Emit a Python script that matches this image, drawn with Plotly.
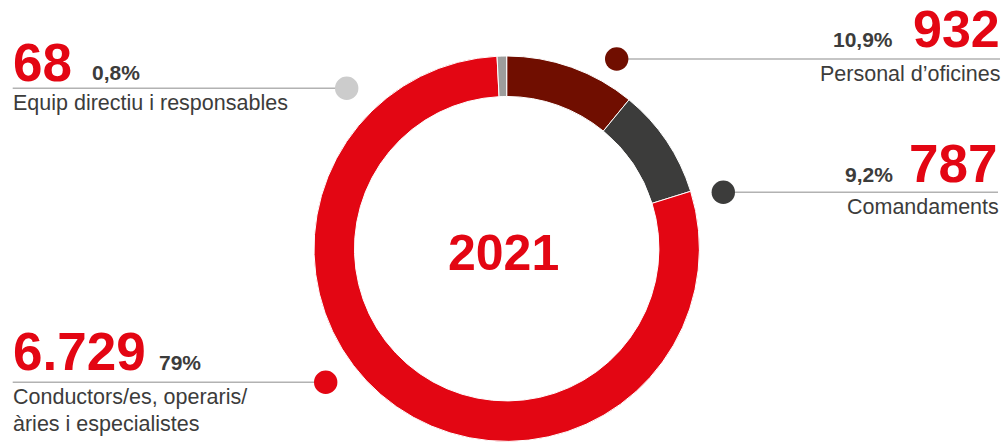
import plotly.graph_objects as go

# ---- data ----
categories = ["Personal d’oficines", "Comandaments",
              "Conductors/es, operaris/\nàries i especialistes",
              "Equip directiu i responsables"]
values = [932, 787, 6729, 68]
pct_labels = ["10,9%", "9,2%", "79%", "0,8%"]
year_label = "2021"

# ---- style ----
W, H = 1006, 442
RED = "#E30613"
DARK = "#3C3C3B"
seg_colors = ["#700E00", "#3C3C3B", "#E30613", "#9D9D9C"]
dot_colors = ["#700E00", "#3C3C3B", "#E30613", "#CCCCCC"]
FONT = "Liberation Sans, Arial, Helvetica, sans-serif"
LBL = 21.5

def px(x):
    return x / W

def py(y):
    return 1 - y / H

num_labels = [f"{v:,}".replace(",", ".") for v in values]

fig = go.Figure(go.Pie(
    values=values,
    labels=[c.replace("\n", " ") for c in categories],
    sort=False, direction="clockwise", rotation=0, hole=0.79,
    marker=dict(colors=seg_colors, line=dict(color="white", width=1)),
    textinfo="none", hoverinfo="label+value+percent", showlegend=False,
    domain=dict(x=[px(314), px(699.4)], y=[py(441.4), py(56)]),
))

ann = []
shapes = []

def text(x, y, s, size, color, bold=False, anchor="left"):
    ann.append(dict(x=px(x), y=py(y), xref="paper", yref="paper", text=f"<b>{s}</b>" if bold else s,
                    showarrow=False, xanchor=anchor, yanchor="middle",
                    font=dict(family=FONT, size=size, color=color)))

def leader(x0, x1, y, dotx, color):
    shapes.append(dict(type="line", xref="paper", yref="paper", x0=px(x0), x1=px(x1), y0=py(y), y1=py(y),
                       line=dict(color="#B2B2B2", width=1.4), layer="below"))
    r = 11.7
    shapes.append(dict(type="circle", xref="paper", yref="paper", x0=px(dotx - r), x1=px(dotx + r),
                       y0=py(y + r), y1=py(y - r), fillcolor=color, line=dict(width=0)))

# Personal d'oficines (top right)
i = 0
text(1002, 29.3, num_labels[i], 52, RED, True, "right")
text(895, 39, pct_labels[i], 21, DARK, True, "right")
text(1002, 74, categories[i], LBL, DARK, False, "right")
leader(616.7, 1000, 59, 616.7, dot_colors[i])

# Comandaments (right)
i = 1
text(999, 163.3, num_labels[i], 53, RED, True, "right")
text(895, 174.5, pct_labels[i], 21, DARK, True, "right")
text(1000.5, 207, categories[i], LBL, DARK, False, "right")
leader(723.3, 998, 192.3, 723.3, dot_colors[i])

# Conductors (bottom left)
i = 2
text(10.5, 351.7, num_labels[i], 53, RED, True, "left")
text(156.5, 362.5, pct_labels[i], 21, DARK, True, "left")
for k, line in enumerate(categories[i].split("\n")):
    text(11, 397 + 26.7 * k, line, LBL, DARK, False, "left")
leader(12.7, 325.7, 382.3, 325.7, dot_colors[i])

# Equip directiu (top left)
i = 3
text(10.5, 62.5, num_labels[i], 53, RED, True, "left")
text(89.5, 72.7, pct_labels[i], 21, DARK, True, "left")
text(11, 103, categories[i], LBL, DARK, False, "left")
leader(12.7, 346.7, 88.3, 346.7, dot_colors[i])

# center year
text(503.3, 253.3, year_label, 50, RED, True, "center")

fig.update_layout(
    width=W, height=H, margin=dict(l=0, r=0, t=0, b=0),
    paper_bgcolor="white", plot_bgcolor="white",
    annotations=ann, shapes=shapes,
)

fig.write_html("out.html", config={"displayModeBar": False},
               post_script="document.body.style.margin='0';document.body.style.overflow='hidden';")
